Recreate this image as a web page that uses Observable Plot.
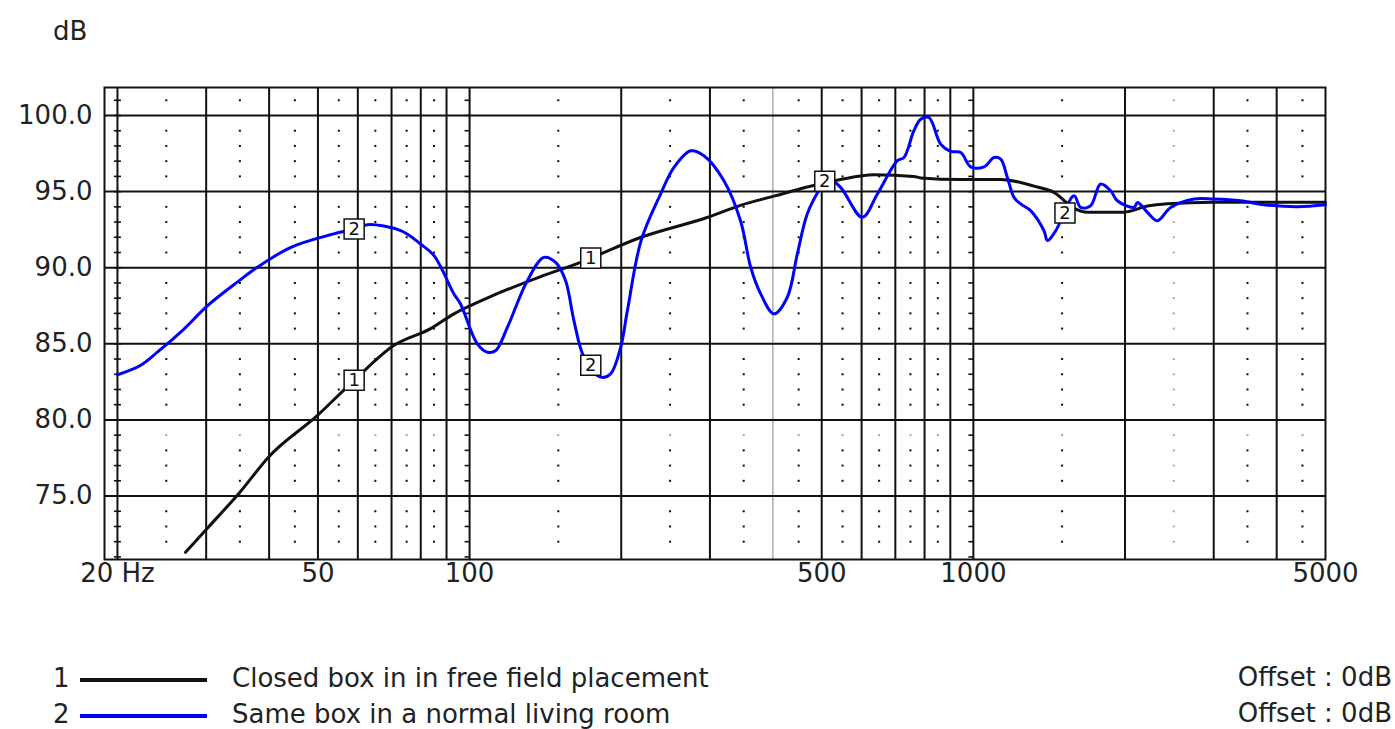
<!DOCTYPE html>
<html><head><meta charset="utf-8">
<script src="https://cdn.jsdelivr.net/npm/d3@7"></script>
<script src="https://cdn.jsdelivr.net/npm/@observablehq/plot@0.6"></script>
<style>
body{margin:0;background:#fff;}
#wrap{position:relative;width:1395px;height:729px;font-family:"DejaVu Sans";color:#222;background:#fff;}
.t{position:absolute;font-size:26px;line-height:26px;white-space:nowrap;font-family:"DejaVu Sans";color:#222;}
.ln{position:absolute;height:4px;}
</style></head><body>
<div id="wrap"></div>
<script>
// ---- data ----
const freqBlack = [27.3, 30.2, 34.9, 40.0, 49.9, 59.0, 70.8, 83.7, 93.1, 105, 110, 138, 166, 219, 296, 345, 402, 468, 545, 635, 762, 786, 944, 1133, 1241, 1340, 1445, 1584, 1684, 1990, 2215, 2427, 3000, 5000];
const dbBlack   = [71.3, 72.9, 75.2, 77.6, 80.3, 82.6, 84.9, 86.0, 86.97, 87.8, 88.1, 89.4, 90.35, 92.0, 93.3, 94.1, 94.7, 95.3, 95.8, 96.1, 96.0, 95.9, 95.8, 95.8, 95.6, 95.3, 94.95, 93.9, 93.65, 93.65, 94.05, 94.2, 94.3, 94.3];

const freqBlue = [20.0, 22.2, 24.0, 26.9, 30.2, 34.9, 37.9, 44.2, 52.2, 59.0, 62.7, 73.0, 79.9, 85.0, 93.1, 96, 103.6, 108.5, 112.7, 118.9, 130.2, 140.5, 148.2, 155.1, 161.1, 168.7, 182, 190.5, 199.5, 205.7, 219, 239.4, 254.5, 274.7, 291.9, 319.8, 345, 361.4, 378.3, 402, 427.2, 447.3, 468, 497.5, 513.1, 545, 601.9, 644.9, 706.5, 728.2, 762, 786, 816.2, 861.2, 901.3, 944, 987.7, 1050, 1099, 1133, 1168, 1204, 1241, 1299, 1381, 1403, 1457, 1584, 1633, 1709, 1789, 1873, 1931, 2084, 2117, 2215, 2319, 2464, 2741, 3003, 3394, 3774, 4397, 5000];
const dbBlue   = [82.97, 83.58, 84.45, 85.87, 87.51, 89.15, 90.03, 91.34, 92.11, 92.55, 92.83, 92.43, 91.56, 90.79, 88.28, 87.6, 85.0, 84.45, 84.56, 86.09, 89.15, 90.68, 90.35, 89.15, 86.53, 84.12, 82.81, 83.03, 84.78, 87.18, 91.78, 94.84, 96.59, 97.68, 97.36, 95.72, 93.09, 90.03, 88.28, 86.97, 88.06, 90.91, 93.53, 95.28, 95.93, 95.28, 93.31, 94.84, 97.03, 97.24, 99.0, 99.76, 99.87, 98.12, 97.64, 97.57, 96.63, 96.63, 97.24, 97.14, 95.93, 94.62, 94.19, 93.75, 92.43, 91.78, 92.43, 94.73, 93.96, 94.07, 95.5, 95.06, 94.4, 93.96, 94.29, 93.64, 93.09, 93.96, 94.51, 94.51, 94.4, 94.14, 94.01, 94.14];

const seriesNames = ["Closed box in in free field placement", "Same box in a normal living room"];
const seriesColors = ["#111111", "#0000ff"];
const offsets = ["Offset : 0dB", "Offset : 0dB"];
const labelFreqs1 = [59, 174];
const labelFreqs2 = [59, 174, 507, 1520];

const xTicks = [20, 50, 100, 500, 1000, 5000];
const xTickLabels = ["20 Hz", "50", "100", "500", "1000", "5000"];
const yTicks = [75, 80, 85, 90, 95, 100];
const majorFreqs = [20, 30, 40, 50, 60, 70, 80, 90, 100, 200, 300, 500, 600, 700, 800, 900, 1000, 2000, 3000, 4000];
const lightFreqs = [400];
const midFreqs = [25, 35, 45, 55, 65, 75, 85, 150, 250, 350, 450, 550, 650, 750, 850, 1500, 2500, 3500, 4500];
const decadeFreqs = [20, 100, 1000];

// ---- derived tables ----
const black = freqBlack.map((f, i) => ({f, db: dbBlack[i]}));
const blue = freqBlue.map((f, i) => ({f, db: dbBlue[i]}));
function interp(fs, ds, f) {
  for (let i = 0; i < fs.length - 1; i++) {
    if (f >= fs[i] && f <= fs[i + 1]) {
      const t = (Math.log(f) - Math.log(fs[i])) / (Math.log(fs[i + 1]) - Math.log(fs[i]));
      return ds[i] + t * (ds[i + 1] - ds[i]);
    }
  }
  return ds[ds.length - 1];
}
const labels = [];
labelFreqs1.forEach(f => labels.push({f, db: interp(freqBlack, dbBlack, f), t: "1"}));
labelFreqs2.forEach(f => labels.push({f, db: interp(freqBlue, dbBlue, f), t: "2"}));
const xLabelRows = xTicks.map((f, i) => ({f, t: xTickLabels[i]}));

const dbInts = d3.range(71, 102);
const gridDots = [];
midFreqs.forEach(f => dbInts.filter(v => v % 5 !== 0 && v > 71).forEach(v => gridDots.push({f, db: v})));
const lineTicks = [];
decadeFreqs.forEach(f => dbInts.forEach(v => lineTicks.push({f, db: v})));

const tickCentered = {draw(ctx) { ctx.moveTo(-3.5, 0); ctx.lineTo(3.5, 0); }};
const tickLeft = {draw(ctx) { ctx.moveTo(-5, 0); ctx.lineTo(0, 0); }};

const chart = Plot.plot({
  width: 1395, height: 600,
  marginTop: 87, marginBottom: 41, marginLeft: 104, marginRight: 70,
  x: {type: "log", domain: [18.85, 5000], axis: null},
  y: {domain: [70.83, 101.84]},
  style: {fontFamily: "DejaVu Sans", background: "white", color: "#222"},
  marks: [
    Plot.dot(gridDots, {x: "f", y: "db", symbol: "square", r: 1.15,
      fill: d => (d.db === 79 || d.f === 2500) ? "#aaa" : "#111", stroke: null}),
    Plot.dot(lineTicks.filter(d => d.f === 20), {x: "f", y: "db", symbol: tickCentered, fill: "none", stroke: "#111", strokeWidth: 1.6}),
    Plot.dot(lineTicks.filter(d => d.f !== 20), {x: "f", y: "db", symbol: tickLeft, fill: "none", stroke: "#111", strokeWidth: 1.6}),
    Plot.ruleX(lightFreqs, {stroke: "#999", strokeWidth: 1.2}),
    Plot.ruleX(majorFreqs, {stroke: "#111", strokeWidth: 2}),
    Plot.ruleY(yTicks, {stroke: "#111", strokeWidth: 2}),
    Plot.frame({stroke: "#111", strokeWidth: 2}),
    Plot.line(black, {x: "f", y: "db", stroke: seriesColors[0], strokeWidth: 3, curve: "monotone-x"}),
    Plot.line(blue, {x: "f", y: "db", stroke: seriesColors[1], strokeWidth: 3, curve: "catmull-rom"}),
    Plot.dot(labels, {x: "f", y: "db", symbol: "square", r: 11.3, fill: "white", stroke: "#111", strokeWidth: 1.5}),
    Plot.text(labels, {x: "f", y: "db", text: "t", fontSize: 18, fill: "#111"}),
    Plot.axisY({ticks: yTicks, tickFormat: d => d.toFixed(1), tickSize: 0, tickPadding: 12, fontSize: 26, label: null}),
    Plot.text(xLabelRows, {x: "f", frameAnchor: "bottom", dy: 22, text: "t", fontSize: 26, fill: "#222"})
  ]
});

const wrap = document.getElementById("wrap");
wrap.appendChild(chart);
chart.style.position = "absolute";
chart.style.left = "0px";
chart.style.top = "0px";

function addText(txt, left, top, right) {
  const d = document.createElement("div");
  d.className = "t";
  d.textContent = txt;
  d.style.top = top + "px";
  if (right !== undefined) d.style.right = right + "px"; else d.style.left = left + "px";
  wrap.appendChild(d);
}
addText("dB", 53, 18);
const rowTops = [665, 701];
seriesNames.forEach((name, i) => {
  addText(String(i + 1), 53, rowTops[i]);
  const ln = document.createElement("div");
  ln.className = "ln";
  ln.style.left = "80px"; ln.style.width = "127px";
  ln.style.top = (rowTops[i] + 13) + "px";
  ln.style.background = seriesColors[i];
  wrap.appendChild(ln);
  addText(name, 232, rowTops[i]);
  addText(offsets[i], null, rowTops[i] - 1, 3);
});
</script>
</body></html>
